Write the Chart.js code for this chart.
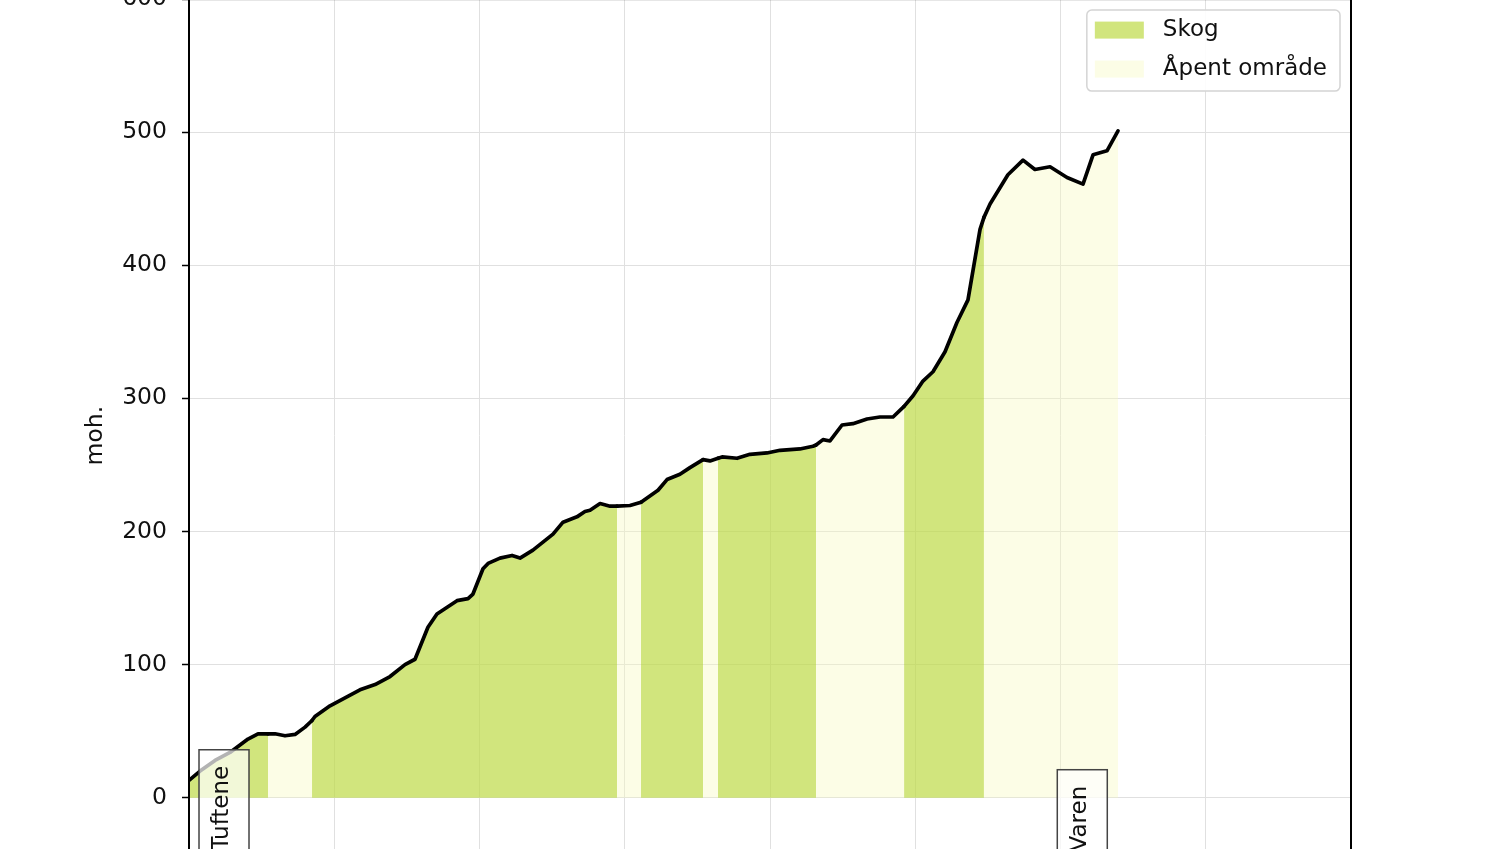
<!DOCTYPE html>
<html>
<head>
<meta charset="utf-8">
<script src="https://cdn.jsdelivr.net/npm/chart.js@4.4.1/dist/chart.umd.min.js"></script>
<style>
  html, body { margin: 0; padding: 0; width: 1500px; height: 849px; overflow: hidden; background: #fff; }
  #wrap { position: absolute; left: 0; top: -30px; width: 1500px; height: 1000px; }
</style>
</head>
<body>
<div id="wrap"><canvas id="profileChart" width="1500" height="1000"></canvas></div>
<script>
// hoydeprofil Tuftene - Varen, distanse i km, hoyde i moh.
var distKm = [
  0.000, 0.076, 0.179, 0.282, 0.406, 0.475, 0.544, 0.592, 0.661, 0.730,
  0.799, 0.847, 0.867, 0.971, 1.074, 1.177, 1.281, 1.384, 1.487, 1.556,
  1.645, 1.707, 1.845, 1.921, 1.955, 2.024, 2.059, 2.141, 2.224, 2.279,
  2.368, 2.437, 2.506, 2.575, 2.671, 2.726, 2.761, 2.830, 2.899, 2.947,
  3.036, 3.112, 3.229, 3.291, 3.380, 3.449, 3.539, 3.587, 3.642, 3.670,
  3.773, 3.862, 3.979, 4.069, 4.206, 4.296, 4.317, 4.365, 4.413, 4.496,
  4.571, 4.668, 4.757, 4.847, 4.923, 4.985, 5.053, 5.122, 5.205, 5.287,
  5.363, 5.446, 5.473, 5.515, 5.638, 5.742, 5.824, 5.928, 6.045, 6.155,
  6.224, 6.320, 6.396
];
var elevM = [
  13, 20, 28, 34, 44, 48, 48, 48, 46.5, 47.5,
  53, 58, 61, 69, 75, 81, 85, 91, 100, 104,
  128, 138, 148, 149.5, 153, 172, 176, 180, 182, 180,
  186, 192, 198, 207, 211, 215, 216, 221, 219, 219,
  219.5, 222, 231, 239, 243, 248, 254, 253, 255, 256,
  255, 258, 259, 261, 262, 264, 265, 269, 268, 280,
  281, 284.5, 286, 286, 294, 302, 313, 320, 335, 357,
  374, 427, 436, 446, 468, 479, 472, 474, 466, 461,
  483, 486, 501
];

// vegetasjon langs ruta: startpunkt (km) og type
var vegStart = [0, 0.544, 0.847, 2.947, 3.112, 3.539, 3.642, 4.317, 4.923, 5.473];
var vegType  = [0, 1, 0, 1, 0, 1, 0, 1, 0, 1];
var vegNames = ["Skog", "Åpent område"];
var vegColors = ["rgba(190,218,70,0.7)", "rgba(248,250,190,0.38)"];

// stedsnavn
var placeNames = ["Tuftene", "Varen"];
var placeKm = [0.241, 6.15];
var placeTop = [36, 21];

var FONT = '"DejaVu Sans", sans-serif';
var TEXT = "#111";

function vegAt(km) {
  var k = 0;
  for (var i = 0; i < vegStart.length; i++) {
    if (km >= vegStart[i]) k = i;
  }
  return vegType[k];
}

var points = distKm.map(function (d, i) { return { x: d, y: elevM[i] }; });

var extras = {
  id: "extras",
  afterDatasetsDraw: function (chart) {
    var ctx = chart.ctx;
    var a = chart.chartArea;
    var xs = chart.scales.x, ys = chart.scales.y;
    ctx.save();

    // stedsnavn i bokser
    ctx.font = "23px " + FONT;
    placeNames.forEach(function (name, i) {
      var cx = xs.getPixelForValue(placeKm[i]);
      var top = ys.getPixelForValue(placeTop[i]);
      var tw = ctx.measureText(name).width;
      var bw = 50, bh = tw + 32;
      ctx.fillStyle = "rgba(255,255,255,0.7)";
      ctx.fillRect(cx - bw / 2, top, bw, bh);
      ctx.strokeStyle = "#444";
      ctx.lineWidth = 1.5;
      ctx.strokeRect(cx - bw / 2, top, bw, bh);
      ctx.save();
      ctx.translate(cx - 2, top + 16);
      ctx.rotate(-Math.PI / 2);
      ctx.fillStyle = TEXT;
      ctx.textAlign = "right";
      ctx.textBaseline = "middle";
      ctx.fillText(name, 0, 0);
      ctx.restore();
    });

    // ramme rundt plottet
    ctx.strokeStyle = "#000";
    ctx.lineWidth = 2;
    ctx.strokeRect(a.left, a.top, a.right - a.left, a.bottom - a.top);

    // legende oppe til hoyre
    ctx.font = "23px " + FONT;
    var maxW = 0;
    vegNames.forEach(function (n) { maxW = Math.max(maxW, ctx.measureText(n).width); });
    var lw = 76 + maxW + 13, lh = 81;
    var lx = a.right - 11 - lw, ly = a.top + 11;
    ctx.beginPath();
    ctx.roundRect(lx, ly, lw, lh, 5);
    ctx.fillStyle = "rgba(255,255,255,0.9)";
    ctx.fill();
    ctx.strokeStyle = "#d4d4d4";
    ctx.lineWidth = 1.5;
    ctx.stroke();
    vegNames.forEach(function (n, i) {
      var cy = ly + 20 + i * 39;
      ctx.fillStyle = vegColors[i];
      ctx.fillRect(lx + 8, cy - 8.5, 49, 17);
      ctx.fillStyle = TEXT;
      ctx.textAlign = "left";
      ctx.textBaseline = "middle";
      ctx.fillText(n, lx + 76, cy);
    });
    ctx.restore();
  }
};

var ctx = document.getElementById("profileChart").getContext("2d");
var profileChart = new Chart(ctx, {
  type: "line",
  data: {
    datasets: [
      {
        label: "Høyde",
        data: points,
        borderColor: "#000",
        borderWidth: 3.7,
        borderJoinStyle: "round",
        borderCapStyle: "round",
        pointRadius: 0,
        tension: 0,
        fill: "origin",
        backgroundColor: vegColors[0],
        segment: {
          backgroundColor: function (c) {
            var mid = (c.p0.parsed.x + c.p1.parsed.x) / 2;
            return vegColors[vegAt(mid)];
          }
        }
      }
    ]
  },
  options: {
    responsive: false,
    animation: false,
    layout: {
      padding: { left: 0, right: 149, top: 27.8, bottom: 0 }
    },
    plugins: {
      legend: { display: false },
      tooltip: { enabled: false }
    },
    scales: {
      x: {
        type: "linear",
        min: 0,
        max: 8,
        ticks: { stepSize: 1, color: TEXT, font: { family: FONT, size: 23 } },
        grid: { color: "#e0e0e0", lineWidth: 1, tickLength: 7, tickColor: "#000" },
        border: { display: false },
        afterFit: function (s) { s.height = 97.8; }
      },
      y: {
        min: -56,
        max: 600,
        ticks: {
          stepSize: 100,
          includeBounds: false,
          padding: 15,
          color: TEXT,
          font: { family: FONT, size: 23.5 }
        },
        grid: { color: "#e0e0e0", lineWidth: 1, tickLength: 7, tickColor: "#000", tickWidth: 1.5 },
        border: { display: false },
        title: {
          display: true,
          text: "moh.",
          color: TEXT,
          font: { family: FONT, size: 23.5 },
          padding: { top: 82, bottom: 0 }
        },
        afterFit: function (s) { s.width = 189; }
      }
    }
  },
  plugins: [extras]
});
</script>
</body>
</html>
